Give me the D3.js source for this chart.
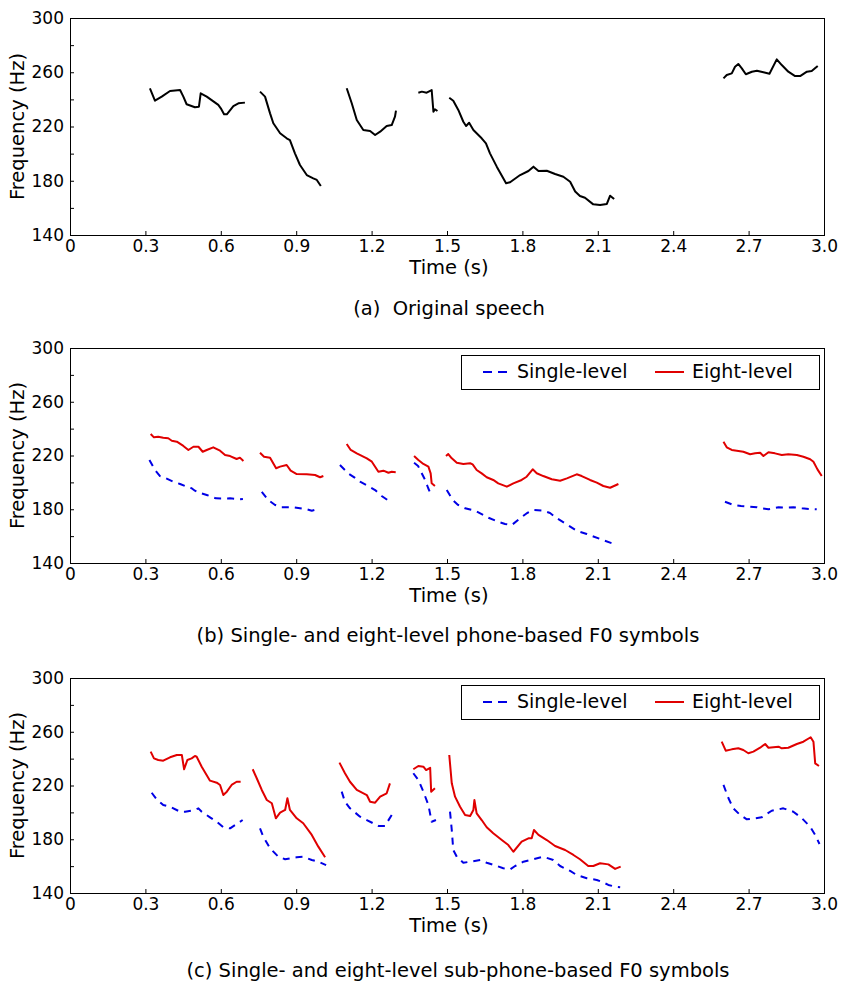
<!DOCTYPE html>
<html>
<head>
<meta charset="utf-8">
<script src="https://cdn.jsdelivr.net/npm/d3@7"></script>
<style>
  body { margin: 0; background: #fff; }
  text { font-family: "DejaVu Sans", sans-serif; fill: #000; }
</style>
</head>
<body>
<div id="chart"></div>
<script>
// time (s), frequency (Hz), one array per voiced segment
var origSpeech = [
  [[0.318,248.2],[0.338,239],[0.365,242],[0.398,246.2],[0.438,246.9],[0.451,242],[0.464,236.4],[0.497,234.2],[0.513,234.6],[0.520,244.5],[0.544,242],[0.590,235.9],[0.600,233.4],[0.613,229],[0.624,229],[0.650,235.1],[0.670,237.1],[0.696,237.6]],
  [[0.756,245.7],[0.776,242],[0.796,229.7],[0.809,222.4],[0.836,215],[0.862,211.3],[0.875,210],[0.895,200.2],[0.915,191.6],[0.942,184.2],[0.968,181.8],[0.982,180.6],[0.998,176.1]],
  [[1.101,248.2],[1.121,237.1],[1.141,224.8],[1.167,217.4],[1.194,216.7],[1.214,213.7],[1.234,216.2],[1.260,220.4],[1.280,221.1],[1.293,227.2],[1.297,231.7]],
  [[1.386,244.9],[1.400,245.7],[1.419,244.9],[1.439,246.9],[1.446,230.9],[1.452,232.7],[1.462,231.4]],
  [[1.509,241.2],[1.525,239],[1.545,232.2],[1.565,223.5],[1.576,220.4],[1.588,222.8],[1.605,217.4],[1.638,211.3],[1.655,207.6],[1.671,200.2],[1.698,190.4],[1.735,178.1],[1.751,178.9],[1.791,184.2],[1.824,187.2],[1.844,190.4],[1.864,187.2],[1.897,187.4],[1.930,185],[1.963,183],[1.990,179.3],[2.010,172.1],[2.029,168.8],[2.049,167.5],[2.082,162.6],[2.109,162.1],[2.136,162.9],[2.149,169],[2.165,166.5]],
  [[2.600,255.5],[2.613,258],[2.633,259.2],[2.646,264.1],[2.659,266.1],[2.673,262.9],[2.689,258.5],[2.713,260.4],[2.733,261.1],[2.759,260],[2.783,258.9],[2.812,269.5],[2.832,265.3],[2.858,260.4],[2.885,257.2],[2.905,257.2],[2.932,260.4],[2.951,260.9],[2.975,264.6]]
];

var phoneSingle = [
  [[0.316,216.7],[0.338,209.2],[0.358,204.7],[0.382,203],[0.411,200.5],[0.438,198.8],[0.464,196.8],[0.484,195.6],[0.497,193.8],[0.517,192.1],[0.544,190.6],[0.581,188.1],[0.609,188],[0.637,188.1],[0.676,187.4],[0.688,187.6]],
  [[0.763,193],[0.789,186.9],[0.816,183.2],[0.842,181.5],[0.889,181.5],[0.942,180],[0.962,178.9],[0.984,180]],
  [[1.074,212.9],[1.107,206.7],[1.134,203.3],[1.154,200.5],[1.191,196.8],[1.214,194.3],[1.240,189.9],[1.273,185.6]],
  [[1.369,214.6],[1.385,212.2],[1.397,207.7],[1.413,201.8],[1.425,195.8],[1.437,190.6]],
  [[1.499,194.3],[1.523,186.9],[1.544,183.2],[1.572,180.7],[1.612,178.9],[1.665,173.7],[1.704,170.7],[1.731,169],[1.758,168.3],[1.791,173.3],[1.819,177.2],[1.844,179.4],[1.883,178.9],[1.910,177.2],[1.937,173.3],[1.970,169.5],[2.016,164],[2.056,161.6],[2.109,157.9],[2.156,154.7]],
  [[2.606,185.6],[2.640,183.2],[2.670,182.4],[2.706,181.9],[2.733,181.5],[2.754,180.6],[2.779,180],[2.819,181.5],[2.849,181.3],[2.878,181.5],[2.912,180.7],[2.941,180.2],[2.971,180]]
];

var phoneEight = [
  [[0.321,236],[0.334,233.5],[0.351,234],[0.371,233.2],[0.391,232.8],[0.405,231],[0.425,230.3],[0.451,227.1],[0.471,224.1],[0.491,226.5],[0.511,226.5],[0.528,222.8],[0.544,224.1],[0.570,226.1],[0.597,223.6],[0.617,220.4],[0.637,219.6],[0.663,217.4],[0.676,218.4],[0.690,215.9]],
  [[0.756,222.1],[0.772,219.1],[0.796,218.4],[0.820,210.5],[0.836,211.7],[0.862,212.9],[0.878,208.7],[0.902,206.2],[0.942,206],[0.975,205.5],[0.995,203.8],[1.008,204.7]],
  [[1.101,228.6],[1.117,224.1],[1.141,221.6],[1.181,217.9],[1.201,215.4],[1.227,207.9],[1.247,208.7],[1.267,207.2],[1.280,207.9],[1.296,207.5]],
  [[1.369,219.6],[1.386,216.7],[1.406,213.7],[1.426,211.7],[1.435,206.7],[1.439,199.3],[1.452,197.3]],
  [[1.496,219.6],[1.505,221.1],[1.519,217.9],[1.539,214.6],[1.565,213.7],[1.592,214.2],[1.602,213.4],[1.618,209.2],[1.638,206.7],[1.658,203.8],[1.684,201.8],[1.704,199.3],[1.738,196.8],[1.764,199.3],[1.797,201.8],[1.817,204.2],[1.841,209.7],[1.857,206.8],[1.883,204.7],[1.917,202.3],[1.950,201.2],[1.977,203],[2.016,206],[2.036,204.7],[2.069,201.8],[2.096,199.8],[2.122,197.3],[2.149,196],[2.182,198.8]],
  [[2.600,230.3],[2.613,226.1],[2.633,224.1],[2.653,223.6],[2.679,222.8],[2.706,220.9],[2.726,221.6],[2.746,222.1],[2.759,219.6],[2.779,222.4],[2.805,221.6],[2.832,220.4],[2.858,220.9],[2.892,220.4],[2.918,219.1],[2.945,217.2],[2.958,215.4],[2.974,209.7],[2.991,204.7]]
];

var subSingle = [
  [[0.325,214.6],[0.345,209.7],[0.371,205.5],[0.398,204.2],[0.438,200.5],[0.458,200.5],[0.497,201.8],[0.511,203],[0.524,200.5],[0.557,196.3],[0.584,193],[0.610,188.9],[0.637,188.1],[0.663,191.3],[0.687,194.3]],
  [[0.756,188.1],[0.769,181.9],[0.796,173.3],[0.829,167],[0.856,165.1],[0.902,166.6],[0.928,167],[0.962,164.6],[0.988,163.3],[1.019,160.8]],
  [[1.081,215.4],[1.094,207.9],[1.114,203],[1.154,196.8],[1.181,194.3],[1.227,189.9],[1.253,189.9],[1.280,198.1]],
  [[1.366,229.1],[1.386,224.1],[1.406,215.4],[1.426,205.5],[1.439,193],[1.456,194.3]],
  [[1.512,200.5],[1.519,186.9],[1.525,172],[1.539,167],[1.565,162.5],[1.592,163.3],[1.632,164.6],[1.658,162.5],[1.698,160.1],[1.724,158.4],[1.751,157.6],[1.771,160.1],[1.804,163.3],[1.844,165.1],[1.883,167],[1.923,164.6],[1.950,160.1],[1.990,156.4],[2.016,153.4],[2.056,151],[2.096,149.7],[2.116,148.4],[2.142,146],[2.169,144.7],[2.189,144.3]],
  [[2.600,220.4],[2.620,210.5],[2.639,203],[2.666,198.1],[2.693,194.8],[2.726,195.6],[2.752,196.3],[2.792,201.2],[2.838,203],[2.878,200.5],[2.912,195.6],[2.945,189.3],[2.965,183.2],[2.982,176.5]]
];

var subEight = [
  [[0.321,245.2],[0.334,240.2],[0.351,239],[0.371,238.5],[0.398,241],[0.425,242.7],[0.445,242.7],[0.454,232.1],[0.467,239],[0.484,240.2],[0.497,242],[0.504,241.4],[0.524,234],[0.557,223.6],[0.584,222.1],[0.597,220.4],[0.610,212.9],[0.624,215.4],[0.643,220.4],[0.663,222.8],[0.679,222.8]],
  [[0.727,232.1],[0.743,225.4],[0.763,216.7],[0.783,209.2],[0.803,206.8],[0.819,195.6],[0.836,199.8],[0.856,201.8],[0.865,210.5],[0.875,201.8],[0.902,195.6],[0.928,191.9],[0.962,183.2],[0.988,174.5],[1.015,166.6]],
  [[1.072,237],[1.094,229.1],[1.114,222.8],[1.141,216.7],[1.181,212.9],[1.194,207.9],[1.214,207.2],[1.234,211.7],[1.260,214.2],[1.273,221.6]],
  [[1.366,232.1],[1.386,234.5],[1.406,234],[1.417,231.5],[1.433,233.2],[1.437,215.4],[1.452,217.9]],
  [[1.509,242.7],[1.519,221.6],[1.532,211.7],[1.552,204.2],[1.572,198.1],[1.592,197.3],[1.605,201.8],[1.609,209.2],[1.618,199.3],[1.638,194.3],[1.658,188.9],[1.684,184.4],[1.718,179.4],[1.744,175.7],[1.764,170.7],[1.797,178.2],[1.824,180.7],[1.837,180.7],[1.846,186.9],[1.864,183.2],[1.897,179.4],[1.930,175],[1.970,172],[2.003,168.3],[2.029,165.1],[2.062,160.1],[2.082,160.1],[2.109,162.1],[2.142,161.3],[2.169,157.9],[2.191,159.6]],
  [[2.593,252.6],[2.609,245.9],[2.633,246.9],[2.659,247.7],[2.679,246.4],[2.699,244],[2.719,245.2],[2.746,248.1],[2.766,250.9],[2.779,248.1],[2.819,248.9],[2.832,247.7],[2.858,248.1],[2.892,250.9],[2.918,252.6],[2.947,255.9],[2.958,252.6],[2.965,236.5],[2.980,234.5]]
];

var xTicks = [0, 0.3, 0.6, 0.9, 1.2, 1.5, 1.8, 2.1, 2.4, 2.7, 3.0];
var xTickLabels = ["0", "0.3", "0.6", "0.9", "1.2", "1.5", "1.8", "2.1", "2.4", "2.7", "3.0"];
var yTicks = [140, 160, 180, 200, 220, 240, 260, 280, 300];
var yTickLabels = [140, 180, 220, 260, 300];
var seriesNames = ["Single-level", "Eight-level"];
var panelTitles = ["(a)  Original speech",
                   "(b) Single- and eight-level phone-based F0 symbols",
                   "(c) Single- and eight-level sub-phone-based F0 symbols"];

var width = 841, height = 981;
var left = 70, right = 824;
var blue = "#0000e6", red = "#e00000";
var labelSize = 19.5, tickSize = 17;

var svg = d3.select("#chart").append("svg")
            .attr("width", width)
            .attr("height", height);

var x = d3.scaleLinear().domain([0, 3.0]).range([left, right]);

var panels = [
  { top: 18,  bottom: 235, title: panelTitles[0], titleX: 449, titleY: 315, lines: [{ data: origSpeech, color: "#000", dash: null }], legend: false },
  { top: 348, bottom: 563, title: panelTitles[1], titleX: 448, titleY: 642, lines: [{ data: phoneSingle, color: blue, dash: "7,6" }, { data: phoneEight, color: red, dash: null }], legend: true },
  { top: 678, bottom: 893, title: panelTitles[2], titleX: 458, titleY: 977, lines: [{ data: subSingle, color: blue, dash: "7,6" }, { data: subEight, color: red, dash: null }], legend: true }
];

panels.forEach(function (p) {
  var y = d3.scaleLinear().domain([140, 300]).range([p.bottom, p.top]);
  var g = svg.append("g");

  var line = d3.line()
               .x(function (d) { return x(d[0]); })
               .y(function (d) { return y(d[1]); })
               .curve(d3.curveLinear);

  p.lines.forEach(function (s) {
    g.selectAll(null)
     .data(s.data)
     .enter()
     .append("path")
     .attr("d", line)
     .attr("fill", "none")
     .attr("stroke", s.color)
     .attr("stroke-width", 2)
     .attr("stroke-linejoin", "round")
     .attr("stroke-dasharray", s.dash);
  });

  // ticks point inward
  var xAxis = d3.axisBottom(x).tickValues(xTicks).tickSizeInner(-4).tickSizeOuter(0)
                .tickPadding(3)
                .tickFormat(function (d, i) { return xTickLabels[i]; });
  var gx = g.append("g").attr("transform", "translate(0," + p.bottom + ")").call(xAxis);
  gx.select(".domain").remove();
  gx.selectAll("text").attr("font-size", tickSize).attr("font-family", "DejaVu Sans").attr("dy", "0.8em");

  var yAxis = d3.axisLeft(y).tickValues(yTicks).tickSizeInner(-4).tickSizeOuter(0)
                .tickPadding(6)
                .tickFormat(function (d) { return yTickLabels.indexOf(d) >= 0 ? d : ""; });
  var gy = g.append("g").attr("transform", "translate(" + left + ",0)").call(yAxis);
  gy.select(".domain").remove();
  gy.selectAll("text").attr("font-size", tickSize).attr("font-family", "DejaVu Sans");

  g.append("rect")
   .attr("x", left + 0.5).attr("y", p.top + 0.5)
   .attr("width", right - left).attr("height", p.bottom - p.top)
   .attr("fill", "none").attr("stroke", "#000").attr("stroke-width", 1);

  g.append("text")
   .attr("x", (left + right) / 2 + 2).attr("y", p.bottom + 39)
   .attr("text-anchor", "middle").attr("font-size", labelSize)
   .text("Time (s)");

  g.append("text")
   .attr("transform", "translate(24," + (p.top + p.bottom) / 2 + ") rotate(-90)")
   .attr("text-anchor", "middle").attr("font-size", labelSize)
   .text("Frequency (Hz)");

  g.append("text")
   .attr("x", p.titleX).attr("y", p.titleY)
   .attr("text-anchor", "middle").attr("font-size", labelSize)
   .style("white-space", "pre")
   .text(p.title);

  if (p.legend) {
    var lg = g.append("g").attr("transform", "translate(461," + (p.top + 7) + ")");
    lg.append("rect").attr("x", 0.5).attr("y", 0.5).attr("width", 358).attr("height", 34)
      .attr("fill", "#fff").attr("stroke", "#000").attr("stroke-width", 1);
    lg.append("line").attr("x1", 22).attr("x2", 47).attr("y1", 17).attr("y2", 17)
      .attr("stroke", blue).attr("stroke-width", 2).attr("stroke-dasharray", "9,6");
    lg.append("text").attr("x", 56).attr("y", 23).attr("font-size", 19).text(seriesNames[0]);
    lg.append("line").attr("x1", 194).attr("x2", 223).attr("y1", 17).attr("y2", 17)
      .attr("stroke", red).attr("stroke-width", 2);
    lg.append("text").attr("x", 231).attr("y", 23).attr("font-size", 19).text(seriesNames[1]);
  }
});
</script>
</body>
</html>
